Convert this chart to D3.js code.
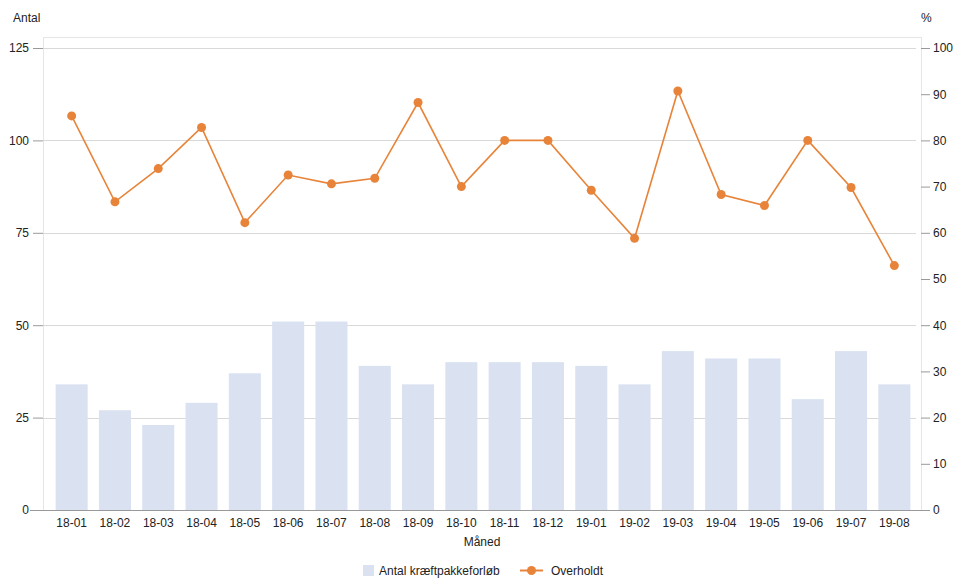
<!DOCTYPE html>
<html>
<head>
<meta charset="utf-8">
<script src="https://cdn.jsdelivr.net/npm/d3@7"></script>
<style>
  body { margin: 0; background: #fff; }
  svg { font-family: Arial, "Liberation Sans", sans-serif; }
</style>
</head>
<body>
<svg id="chart" width="960" height="578"></svg>
<script>
// data
const months = ["18-01","18-02","18-03","18-04","18-05","18-06","18-07","18-08","18-09","18-10",
                "18-11","18-12","19-01","19-02","19-03","19-04","19-05","19-06","19-07","19-08"];
const antal = [34, 27, 23, 29, 37, 51, 51, 39, 34, 40, 40, 40, 39, 34, 43, 41, 41, 30, 43, 34];
const overholdt = [85.3, 66.7, 73.9, 82.8, 62.2, 72.5, 70.6, 71.8, 88.2, 70.0,
                   80.0, 80.0, 69.2, 58.8, 90.7, 68.3, 65.9, 80.0, 69.8, 52.9];
const leftTicks = [0, 25, 50, 75, 100, 125];
const rightTicks = [0, 10, 20, 30, 40, 50, 60, 70, 80, 90, 100];

const barColor = "#dae2f2";
const lineColor = "#e8843a";
const gridColor = "#d9d9d9";

const svg = d3.select("#chart");
const mLeft = 43, mRight = 921, mTop = 37, mBottom = 510;

const x = d3.scaleBand().domain(months).range([50, 916]).paddingInner(0.26).paddingOuter(0.13);
const yL = d3.scaleLinear().domain([0, 125]).range([mBottom, 48]);
const yR = d3.scaleLinear().domain([0, 100]).range([mBottom, 48]);

// frame
svg.append("rect")
  .attr("x", mLeft + 0.5).attr("y", mTop + 0.5)
  .attr("width", mRight - mLeft).attr("height", mBottom - mTop)
  .attr("fill", "none").attr("stroke", "#e6e6e6");

// gridlines
svg.append("g").selectAll("line").data(leftTicks).join("line")
  .attr("x1", mLeft).attr("x2", mRight - 5)
  .attr("y1", d => Math.round(yL(d)) + 0.5).attr("y2", d => Math.round(yL(d)) + 0.5)
  .attr("stroke", gridColor);

// bars
svg.append("g").selectAll("rect").data(antal).join("rect")
  .attr("x", (d, i) => x(months[i]))
  .attr("y", d => yL(d))
  .attr("width", x.bandwidth())
  .attr("height", d => mBottom - yL(d))
  .attr("fill", barColor);

// left axis
const gl = svg.append("g").attr("transform", `translate(${mLeft},0)`)
  .call(d3.axisLeft(yL).tickValues(leftTicks).tickSize(10).tickPadding(4));
// right axis
const gr = svg.append("g").attr("transform", `translate(${mRight},0)`)
  .call(d3.axisRight(yR).tickValues(rightTicks).tickSize(9).tickPadding(3));
// bottom axis
const gb = svg.append("g").attr("transform", `translate(0,${mBottom})`)
  .call(d3.axisBottom(x).tickSize(0).tickPadding(8));

[gl, gr, gb].forEach(g => {
  g.select(".domain").remove();
  g.selectAll(".tick line").attr("stroke", "#999");
  g.selectAll("text").attr("font-size", 12).attr("fill", "#222").attr("font-family", "Arial, 'Liberation Sans', sans-serif");
});
svg.append("line")
  .attr("x1", 30).attr("x2", mRight).attr("y1", mBottom + 0.5).attr("y2", mBottom + 0.5)
  .attr("stroke", "#999");

// line + points
const line = d3.line().x((d, i) => x(months[i]) + x.bandwidth() / 2).y(d => yR(d));
svg.append("path").datum(overholdt)
  .attr("d", line).attr("fill", "none").attr("stroke", lineColor).attr("stroke-width", 1.6);
svg.append("g").selectAll("circle").data(overholdt).join("circle")
  .attr("cx", (d, i) => x(months[i]) + x.bandwidth() / 2)
  .attr("cy", d => yR(d))
  .attr("r", 4.5)
  .attr("fill", lineColor);

// titles
svg.append("text").attr("x", 13).attr("y", 22).attr("font-size", 12).attr("fill", "#222").text("Antal");
svg.append("text").attr("x", 921).attr("y", 22).attr("font-size", 12).attr("fill", "#222").text("%");
svg.append("text").attr("x", 482).attr("y", 546).attr("text-anchor", "middle")
  .attr("font-size", 12).attr("fill", "#222").text("Måned");

// legend
const lg = svg.append("g");
lg.append("rect").attr("x", 363).attr("y", 565).attr("width", 11).attr("height", 11).attr("fill", barColor);
lg.append("text").attr("x", 379).attr("y", 575).attr("font-size", 12).attr("fill", "#222").text("Antal kræftpakkeforløb");
lg.append("line").attr("x1", 520).attr("x2", 543).attr("y1", 570.5).attr("y2", 570.5)
  .attr("stroke", lineColor).attr("stroke-width", 2);
lg.append("circle").attr("cx", 531.5).attr("cy", 570.5).attr("r", 4.5).attr("fill", lineColor);
lg.append("text").attr("x", 551).attr("y", 575).attr("font-size", 12).attr("fill", "#222").text("Overholdt");
</script>
</body>
</html>
